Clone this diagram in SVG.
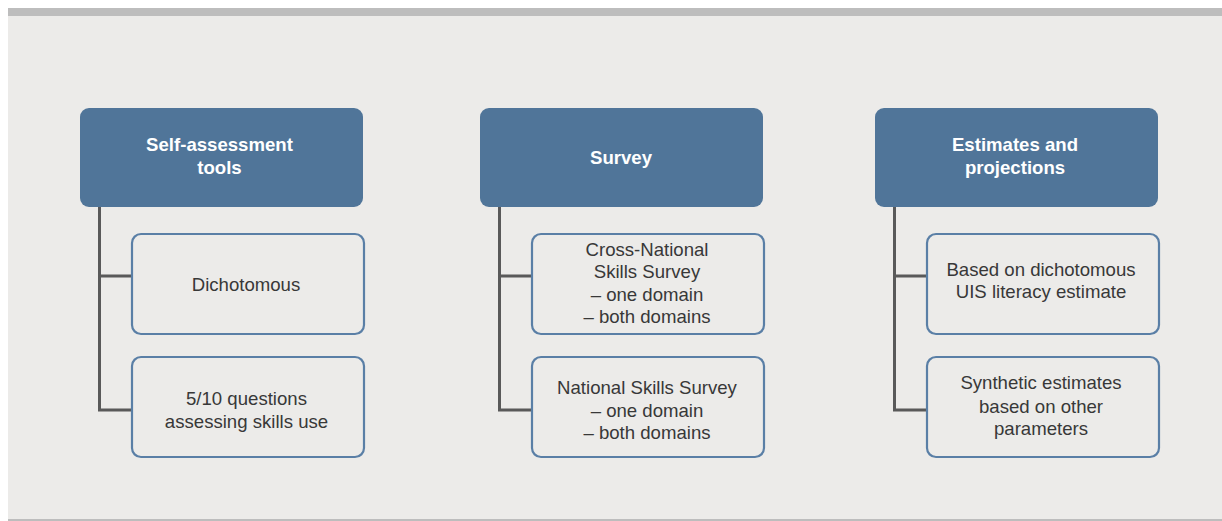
<svg xmlns="http://www.w3.org/2000/svg" width="1222" height="521" viewBox="0 0 1222 521">
<style>
.hd{fill:#507599;}
.ch{fill:#ecebe9;stroke:#5a7fa6;stroke-width:2.2;}
.ht{font-family:"Liberation Sans",Arial,sans-serif;font-weight:bold;font-size:18.6px;fill:#ffffff;text-anchor:middle;}
.ct{font-family:"Liberation Sans",Arial,sans-serif;font-size:18.6px;fill:#383838;text-anchor:middle;}
.cn{fill:none;stroke:#595959;stroke-width:3;}
</style>
<rect x="0" y="0" width="1222" height="521" fill="#ffffff"/>
<rect x="8" y="8" width="1214" height="512" fill="#ecebe9"/>
<rect x="8" y="8" width="1214" height="8" fill="#bdbdbd"/>
<rect x="8" y="519" width="1214" height="2" fill="#bdbdbd"/>
<g id="connectors">
<path class="cn" d="M99.5 207 V410 H131 M99.5 276 H131"/>
<path class="cn" d="M499.5 207 V410 H531 M499.5 276 H531"/>
<path class="cn" d="M894.5 207 V410 H926 M894.5 276 H926"/>
</g>
<g id="h1"><rect class="hd" x="80" y="108" width="283" height="99" rx="9"/>
<text class="ht" x="219.5" y="150.5">Self-assessment</text><text class="ht" x="219.5" y="173.5">tools</text></g>
<g id="h2"><rect class="hd" x="480" y="108" width="283" height="99" rx="9"/>
<text class="ht" x="621" y="163.5">Survey</text></g>
<g id="h3"><rect class="hd" x="875" y="108" width="283" height="99" rx="9"/>
<text class="ht" x="1015" y="150.5">Estimates and</text><text class="ht" x="1015" y="173.5">projections</text></g>
<g id="c1a"><rect class="ch" x="132" y="234" width="232" height="100" rx="9"/>
<text class="ct" x="246" y="291">Dichotomous</text></g>
<g id="c1b"><rect class="ch" x="132" y="357" width="232" height="100" rx="9"/>
<text class="ct" x="246.5" y="405">5/10 questions</text><text class="ct" x="246.5" y="428">assessing skills use</text></g>
<g id="c2a"><rect class="ch" x="532" y="234" width="232" height="100" rx="9"/>
<text class="ct" x="647" y="256">Cross-National</text><text class="ct" x="647" y="278">Skills Survey</text><text class="ct" x="647" y="301">– one domain</text><text class="ct" x="647" y="323">– both domains</text></g>
<g id="c2b"><rect class="ch" x="532" y="357" width="232" height="100" rx="9"/>
<text class="ct" x="647" y="394">National Skills Survey</text><text class="ct" x="647" y="417">– one domain</text><text class="ct" x="647" y="439">– both domains</text></g>
<g id="c3a"><rect class="ch" x="927" y="234" width="232" height="100" rx="9"/>
<text class="ct" x="1041" y="276">Based on dichotomous</text><text class="ct" x="1041" y="298">UIS literacy estimate</text></g>
<g id="c3b"><rect class="ch" x="927" y="357" width="232" height="100" rx="9"/>
<text class="ct" x="1041" y="389">Synthetic estimates</text><text class="ct" x="1041" y="413">based on other</text><text class="ct" x="1041" y="435">parameters</text></g>
</svg>
